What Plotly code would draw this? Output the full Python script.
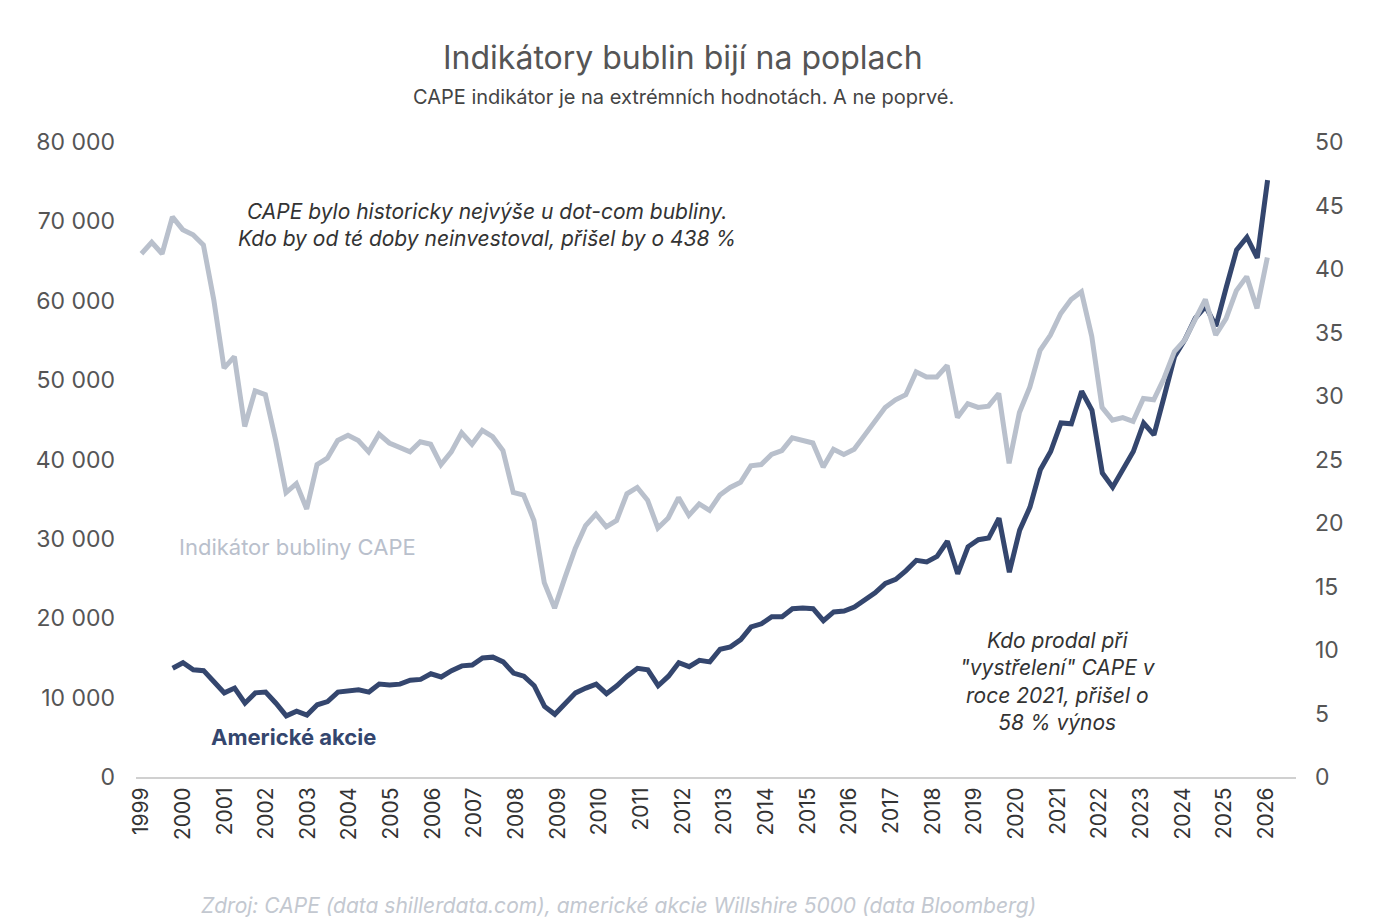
import plotly.graph_objects as go

# quarterly data, CAPE starts 1999 Q1, Wilshire starts 1999 Q4
cape = [41.2, 42.1, 41.2, 44.1, 43.1, 42.7, 41.9, 37.6, 32.2, 33.1, 27.6, 30.4, 30.1, 26.5, 22.4, 23.1,
        21.1, 24.6, 25.1, 26.5, 26.9, 26.5, 25.6, 27.0, 26.3, 26.0, 25.6, 26.4, 26.2, 24.6, 25.6, 27.1,
        26.2, 27.3, 26.8, 25.7, 22.4, 22.2, 20.2, 15.3, 13.3, 15.7, 18.0, 19.8, 20.7, 19.7, 20.2, 22.3,
        22.8, 21.8, 19.6, 20.4, 22.0, 20.6, 21.5, 21.0, 22.2, 22.8, 23.2, 24.5, 24.6, 25.4, 25.7, 26.7,
        26.5, 26.3, 24.4, 25.8, 25.4, 25.8, 26.9, 28.0, 29.1, 29.7, 30.1, 31.9, 31.5, 31.5, 32.4, 28.3,
        29.4, 29.1, 29.2, 30.2, 24.7, 28.7, 30.7, 33.6, 34.8, 36.5, 37.6, 38.2, 34.7, 29.1, 28.1, 28.3,
        28.0, 29.8, 29.7, 31.4, 33.5, 34.4, 36.0, 37.6, 34.8, 36.1, 38.3, 39.4, 36.9, 40.9]
wilshire = [13700, 14400, 13500, 13400, 12000, 10600, 11200, 9300, 10600, 10700, 9300, 7700, 8300, 7800,
            9100, 9500, 10700, 10800, 11000, 10700, 11700, 11600, 11700, 12200, 12300, 13000, 12600,
            13400, 14000, 14100, 15000, 15100, 14500, 13100, 12700, 11500, 8900, 7900, 9200, 10600,
            11200, 11700, 10500, 11500, 12700, 13700, 13500, 11500, 12700, 14400, 13900, 14700, 14500,
            16100, 16400, 17300, 18900, 19300, 20200, 20200, 21200, 21300, 21200, 19700, 20800, 20900,
            21400, 22300, 23200, 24400, 24900, 26000, 27300, 27100, 27800, 29700, 25600, 29000, 29900,
            30100, 32600, 25800, 31100, 34000, 38700, 41000, 44600, 44500, 48600, 46200, 38300, 36500,
            38700, 41000, 44600, 43100, 48000, 53000, 55100, 57800, 59300, 56800, 61700, 66400, 68000,
            65400, 75200]
cape_x = [1999 + i * 0.248 for i in range(len(cape))]
wil_x = [1999.75 + i * 0.248 for i in range(len(wilshire))]
years = list(range(1999, 2027))
left_ticks = [0, 10000, 20000, 30000, 40000, 50000, 60000, 70000, 80000]
left_labels = ["0", "10 000", "20 000", "30 000", "40 000", "50 000", "60 000", "70 000", "80 000"]
right_ticks = [0, 5, 10, 15, 20, 25, 30, 35, 40, 45, 50]

FONT = "Inter"
L, T, W, H = 128, 134, 1160, 635  # plot area (page has an 8px body offset)

fig = go.Figure()
fig.add_trace(go.Scatter(x=cape_x, y=cape, yaxis="y2", mode="lines",
                         line=dict(color="#b9c0cc", width=5)))
fig.add_trace(go.Scatter(x=wil_x, y=wilshire, mode="lines",
                         line=dict(color="#34466e", width=5)))

fig.update_layout(
    width=1381, height=924, showlegend=False,
    paper_bgcolor="white", plot_bgcolor="white",
    margin=dict(l=L, r=1381 - L - W, t=T, b=924 - T - H),
    font=dict(family=FONT, color="#555"),
    xaxis=dict(range=[1998.87, 2026.72], tickvals=years, ticktext=[str(y) for y in years],
               tickangle=-90, showgrid=False, zeroline=False, showline=True,
               linecolor="#d0d0d0", linewidth=2, tickfont=dict(size=21, color="#333"), ticks=""),
    yaxis=dict(range=[0, 80000], tickvals=left_ticks, ticktext=left_labels, showgrid=False,
               zeroline=False, tickfont=dict(size=23, color="#555"), ticklabelstandoff=20),
    yaxis2=dict(range=[0, 50], tickvals=right_ticks, overlaying="y", side="right",
                showgrid=False, zeroline=False, tickfont=dict(size=23, color="#555"),
                ticklabelstandoff=18),
)


def paper(px, py):
    return (px - 8 - L) / W, (T + H + 8 - py) / H


for px, py, text, size, color in [
    (683, 57, "Indikátory bublin bijí na poplach", 32, "#555"),
    (683, 97, "CAPE indikátor je na extrémních hodnotách. A ne poprvé.", 20, "#444"),
    (618, 905, "<i>Zdroj: CAPE (data shillerdata.com), americké akcie Willshire 5000 (data Bloomberg)</i>", 21, "#c3c8d0"),
]:
    x, y = paper(px, py)
    fig.add_annotation(xref="paper", yref="paper", x=x, y=y, text=text, showarrow=False,
                       font=dict(size=size, color=color, family=FONT), yanchor="middle")

fig.add_annotation(x=2007.3, y=69500, text="<i>CAPE bylo historicky nejvýše u dot-com bubliny.<br>Kdo by od té doby neinvestoval, přišel by o 438 %</i>",
                   showarrow=False, font=dict(size=21, color="#333", family=FONT), align="center")
fig.add_annotation(x=2002.75, y=29000, text="Indikátor bubliny CAPE", showarrow=False,
                   font=dict(size=22, color="#b9c0cc", family=FONT))
fig.add_annotation(x=2002.65, y=5000, text="<b>Americké akcie</b>", showarrow=False,
                   font=dict(size=22, color="#34466e", family=FONT))
fig.add_annotation(x=2021.0, y=12000, text="<i>Kdo prodal při<br>\"vystřelení\" CAPE v<br>roce 2021, přišel o<br>58 % výnos</i>",
                   showarrow=False, font=dict(size=21, color="#333", family=FONT), align="center")

fig.write_html("out.html")
